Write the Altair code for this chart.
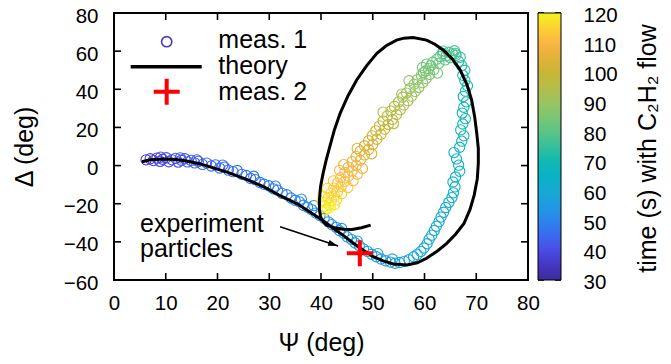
import altair as alt
import pandas as pd

FONT = "Liberation Sans"

# ---------------- data ----------------
# meas. 1, part 1: along the lower branch (time in s)
s1_psi = [6.2, 7.0, 7.6, 8.3, 8.9, 9.0, 9.4, 10.1, 10.6, 11.2, 11.9, 12.4, 12.8, 13.0, 13.7, 14.2, 14.9, 15.6, 16.0, 16.3,
          17.1, 17.9, 18.8, 19.6, 20.4, 21.0, 21.3, 22.1, 23.0, 23.8, 24.7, 25.6, 26.4, 27.0, 27.3, 28.2, 29.0, 29.9, 30.8, 31.2,
          31.6, 32.5, 33.4, 34.2, 35.0, 35.8, 36.2, 36.6, 37.4, 38.2, 38.6, 39.0, 39.8, 40.6, 41.4, 42.1, 42.9, 43.6, 44.0, 44.4,
          45.1, 45.9, 46.6, 47.0, 47.4, 48.2, 49.0, 49.8, 50.7, 51.0, 51.6, 52.5, 53.4, 53.8, 54.3, 55.2, 56.1]
s1_delta = [3.0, 3.6, 2.6, 3.9, 2.2, 4.4, 3.3, 4.1, 2.0, 3.0, 3.8, 1.8, 4.0, 2.8, 3.6, 1.9, 2.7, 1.4, 3.0, 2.2,
            0.6, 1.3, -0.2, 0.4, -1.3, 0.2, -0.8, -2.4, -3.2, -2.6, -4.6, -5.2, -6.8, -5.6, -7.4, -8.9, -9.8, -10.6, -12.2, -10.8,
            -12.9, -14.6, -15.3, -17.0, -18.2, -19.0, -17.6, -20.8, -21.9, -23.1, -21.0, -24.9, -26.2, -27.6, -29.5, -31.0, -32.4, -34.2, -33.0, -35.5,
            -37.4, -38.8, -40.6, -39.6, -42.0, -43.7, -45.0, -46.5, -47.8, -46.2, -49.0, -49.9, -50.6, -49.0, -51.2, -50.8, -50.2]
s1_time = [37.0, 37.5, 38.0, 38.4, 38.8, 39.0, 39.2, 39.6, 40.0, 40.4, 40.8, 41.1, 41.3, 41.5, 41.9, 42.2, 42.6, 43.0, 43.1, 43.3,
           43.7, 44.0, 44.4, 44.7, 45.0, 45.2, 45.3, 45.6, 45.9, 46.2, 46.5, 46.8, 47.1, 47.2, 47.4, 47.7, 48.0, 48.3, 48.6, 48.7,
           48.9, 49.2, 49.5, 49.8, 50.1, 50.4, 50.5, 50.7, 51.0, 51.3, 51.4, 51.6, 51.9, 52.2, 52.5, 52.8, 53.1, 53.4, 53.5, 53.7,
           54.0, 54.3, 54.6, 54.7, 54.9, 55.2, 55.5, 55.8, 56.1, 56.2, 56.4, 56.7, 57.0, 57.1, 57.3, 57.6, 57.9]

# meas. 1, part 2: right side going up
s2_psi = [57.0, 57.9, 58.6, 59.3, 59.9, 60.5, 60.9, 61.4, 61.9, 62.3, 62.8, 63.2, 63.7, 64.1, 64.7, 65.3, 65.6, 65.9,
          65.5, 66.0, 66.8, 66.6, 66.2, 65.7, 66.8, 67.2, 67.6, 67.0, 67.4, 67.9, 67.3, 67.6, 68.1, 67.5, 67.9, 68.3,
          67.8, 67.4, 67.8, 67.2, 66.6, 66.9, 66.1, 65.4, 64.7, 65.8, 64.2, 63.5]
s2_delta = [-49.4, -47.8, -46.6, -45.0, -43.2, -41.0, -38.6, -36.5, -34.0, -31.8, -29.4, -27.0, -24.5, -22.0, -19.3, -16.8, -14.3, -11.2,
            -8.6, -6.0, -3.0, 0.2, 3.5, 6.8, 9.6, 12.8, 15.6, 18.7, 21.8, 24.6, 27.5, 30.6, 33.4, 36.2, 39.0, 41.8,
            44.6, 47.3, 50.0, 52.4, 54.6, 56.8, 57.9, 58.6, 59.4, 60.2, 57.6, 58.8]
s2_time = [58.2, 58.5, 58.8, 59.1, 59.4, 59.7, 60.0, 60.3, 60.6, 60.9, 61.2, 61.5, 61.8, 62.1, 62.4, 62.8, 63.2, 63.6,
           64.0, 64.4, 64.8, 65.2, 65.6, 66.0, 66.4, 66.8, 67.2, 67.6, 68.0, 68.4, 68.8, 69.2, 69.6, 70.0, 70.4, 70.8,
           71.3, 71.8, 72.3, 72.8, 73.4, 74.0, 74.8, 75.6, 76.4, 77.2, 78.0, 78.8]

# meas. 1, part 3: top cluster and the diagonal back down
s3_psi = [66.0, 65.0, 63.0, 63.6, 62.4, 64.0, 62.8, 61.6, 61.2, 60.4, 60.8, 61.8, 62.5, 59.6, 60.2, 59.8, 61.0, 59.4,
          60.3, 58.6, 57.0, 59.6, 58.0, 58.9, 57.2, 58.2, 56.5, 55.6, 57.5, 55.8, 56.8, 55.0, 56.0, 54.2, 55.3, 52.0,
          53.5, 54.6, 52.8, 53.8, 52.0, 54.0, 53.0, 51.3, 52.3, 50.6, 51.6, 49.9, 50.8, 49.2, 50.0, 49.8, 48.4, 47.0,
          49.2, 47.6, 48.4, 46.8, 47.6, 48.0, 46.0, 46.8, 44.4, 45.3, 47.0, 46.0, 44.6, 43.6, 45.3, 46.2, 43.8, 44.6,
          42.4, 43.2, 45.2, 43.9, 42.5, 44.0, 43.2, 41.2, 41.9, 43.0, 42.6, 41.4, 40.4, 42.0, 42.6, 40.9, 41.6, 40.2,
          40.6, 41.2, 40.8, 41.8]
s3_delta = [58.8, 56.6, 57.2, 60.0, 55.8, 55.4, 53.6, 54.2, 52.4, 53.2, 50.8, 50.2, 48.5, 51.4, 49.6, 48.8, 47.8, 47.2,
            45.6, 45.0, 44.5, 43.4, 42.6, 41.0, 40.4, 38.8, 38.0, 37.5, 36.4, 35.8, 34.0, 33.4, 31.8, 31.0, 29.2, 28.0,
            28.6, 26.8, 26.0, 24.2, 23.4, 22.0, 21.6, 20.8, 19.0, 18.2, 16.4, 15.6, 13.8, 13.0, 11.0, 6.2, 10.4, 9.0,
            8.4, 7.6, 5.6, 4.8, 2.8, -1.5, 2.0, 0.0, 0.5, -0.8, -4.5, -2.8, -3.6, -2.5, -5.6, -8.0, -6.4, -8.4,
            -8.0, -9.2, -11.5, -11.0, -11.8, -14.8, -13.6, -12.0, -14.4, -18.0, -16.0, -16.8, -16.0, -18.4, -20.5, -19.2, -20.6, -19.0,
            -21.4, -22.4, -23.4, -21.8]
s3_time = [78.4, 79.0, 79.5, 80.0, 80.2, 80.8, 81.4, 82.0, 82.6, 83.2, 83.8, 84.0, 84.3, 84.4, 84.6, 85.0, 85.2, 85.8,
           86.4, 87.0, 87.5, 87.6, 88.2, 88.8, 89.4, 90.0, 90.6, 91.0, 91.2, 91.8, 92.4, 93.0, 93.6, 94.2, 94.8, 95.0,
           95.4, 96.0, 96.6, 97.2, 97.8, 98.0, 98.4, 99.0, 99.6, 100.2, 100.8, 101.4, 102.0, 102.6, 103.2, 103.5, 103.8, 104.0,
           104.4, 105.0, 105.6, 106.2, 106.8, 107.0, 107.4, 108.0, 108.5, 108.6, 109.0, 109.2, 109.8, 110.0, 110.4, 110.5, 111.0, 111.6,
           111.8, 112.2, 112.5, 112.8, 113.4, 113.8, 114.0, 114.2, 114.6, 115.0, 115.2, 115.8, 116.0, 116.4, 116.8, 117.0, 117.6, 118.0,
           118.2, 118.8, 119.4, 120.0]

# theory curve (in drawing order)
th_psi = [5.4, 7.0, 9.5, 12.0, 14.0, 16.5, 19.2, 22.0, 25.6, 29.0, 32.1, 35.5, 38.5, 40.5, 42.4, 44.3, 46.2, 48.2, 50.1,
          52.0, 54.0, 56.6, 58.6, 60.4, 62.5, 64.3, 66.0, 67.6, 68.8, 69.6, 70.2, 70.4, 70.4, 70.1, 69.7, 69.1, 68.2,
          66.9, 65.4, 63.6, 62.0, 60.4, 57.8, 56.0, 54.6, 52.6, 50.8, 48.8, 46.9, 45.2, 43.7, 42.6, 41.7, 41.0, 40.4,
          39.9, 39.7, 39.7, 39.9, 40.4, 41.1, 42.6, 44.3, 46.0, 47.8, 49.6]
th_delta = [2.0, 3.0, 3.4, 3.2, 2.4, 1.0, -1.2, -3.6, -7.2, -11.2, -15.8, -20.2, -25.5, -29.0, -33.0, -36.6, -40.6, -44.4, -47.8,
            -50.0, -51.6, -52.1, -51.0, -48.6, -44.8, -40.8, -36.0, -30.5, -23.0, -15.5, -7.0, 1.2, 9.0, 16.9, 25.5, 34.4, 42.5,
            50.1, 55.8, 60.6, 63.6, 65.8, 67.1, 66.8, 65.8, 62.8, 58.9, 52.3, 44.9, 36.5, 27.4, 18.8, 9.9, 2.8, -4.1,
            -11.2, -18.1, -23.0, -26.8, -29.4, -31.2, -32.6, -33.4, -33.5, -32.6, -31.2]

# meas. 2
m2_psi = [47.5]
m2_delta = [-46.0]

# annotation arrow (tail -> head)
arrow_psi = [32.1, 43.3]
arrow_delta = [-32.1, -42.2]

x_ticks = [0, 10, 20, 30, 40, 50, 60, 70, 80]
y_ticks = [-60, -40, -20, 0, 20, 40, 60, 80]
cb_ticks = [30, 40, 50, 60, 70, 80, 90, 100, 110, 120]

legend_labels = ["meas. 1", "theory", "meas. 2"]
annot_lines = ["experiment", "particles"]
cb_title = "time (s) with C\u2082H\u2082 flow"

# parula-like palette
cb_stops = [30, 35, 40, 45, 50, 55, 60, 65, 70, 75, 80, 85, 90, 95, 100, 105, 110, 115, 120]
cb_colors = ["#3a2c98", "#4436c2", "#4a4ce4", "#3b69ef", "#2b85ee", "#1f9ae2", "#17a9d2", "#08b2c6",
             "#10b9b2", "#36bf9a", "#5dc486", "#7cc674", "#9ac460", "#b5bd48", "#c9b535", "#e2b23a",
             "#fbb641", "#fdd232", "#f5f41a"]

# ---------------- chart ----------------
W, H = 414, 267
TICK_FS = 20.5
TEXT_FS = 25

meas = pd.DataFrame({
    "psi": s1_psi + s2_psi + s3_psi,
    "delta": s1_delta + s2_delta + s3_delta,
    "t": s1_time + s2_time + s3_time,
})
theory = pd.DataFrame({"psi": th_psi, "delta": th_delta, "idx": list(range(len(th_psi)))})
meas2 = pd.DataFrame({"psi": m2_psi, "delta": m2_delta})
arrow = pd.DataFrame({"psi": arrow_psi, "delta": arrow_delta, "idx": [0, 1]})
arrow_head = arrow.iloc[[1]]

xs = alt.Scale(domain=[0, 80], nice=False, zero=False)
ys = alt.Scale(domain=[-60, 80], nice=False, zero=False)
cbs = alt.Scale(domain=[30, 120], nice=False, zero=False)

x_axis = alt.Axis(values=x_ticks, tickCount=20, tickSize=0, domain=False, grid=False, labelOverlap=False,
                  labelFont=FONT, labelFontSize=TICK_FS, labelColor="black", labelPadding=13, labelFlush=False,
                  title="\u03a8 (deg)", titleFont=FONT, titleFontSize=TEXT_FS, titleFontWeight="normal",
                  titleColor="black", titleY=70, titleBaseline="alphabetic")
y_axis = alt.Axis(values=y_ticks, tickCount=20, tickSize=0, domain=False, grid=False, labelOverlap=False,
                  labelFont=FONT, labelFontSize=TICK_FS, labelColor="black", labelPadding=16, labelOffset=3,
                  title="\u0394 (deg)", titleFont=FONT, titleFontSize=TEXT_FS, titleFontWeight="normal",
                  titleColor="black", titleX=-82, titleY=133.5, titleAngle=270, titleBaseline="alphabetic")
cb_axis = alt.Axis(orient="right", offset=33, values=cb_ticks, tickCount=20, tickSize=0, domain=False, grid=False,
                   labelOverlap=False, labelFont=FONT, labelFontSize=TICK_FS, labelColor="black",
                   labelPadding=22, labelFlush=False, labelOffset=2.5,
                   title=cb_title, titleFont=FONT, titleFontSize=TEXT_FS, titleFontWeight="normal",
                   titleColor="black", titleAngle=270, titleBaseline="alphabetic", titleX=94, titleY=135)

X = alt.X("psi:Q", scale=xs, axis=x_axis)
Y = alt.Y("delta:Q", scale=ys, axis=y_axis)

color_scale = alt.Scale(domain=cb_stops, range=cb_colors, interpolate="rgb")

points = alt.Chart(meas).mark_point(shape="circle", filled=False, size=105, strokeWidth=1.1, opacity=1).encode(
    x=X, y=Y,
    stroke=alt.Stroke("t:Q", scale=color_scale,
                      legend=alt.Legend(orient="none", legendX=424, legendY=0, direction="vertical",
                                        gradientLength=H, gradientThickness=23, values=cb_ticks,
                                        labelExpr="''", labelFontSize=1,
                                        gradientStrokeColor="black", gradientStrokeWidth=1, title=None)),
)

theory_line = alt.Chart(theory).mark_line(color="black", strokeWidth=3).encode(
    x=alt.X("psi:Q", scale=xs), y=alt.Y("delta:Q", scale=ys), order="idx:Q")

PLUS = "M-1,0L1,0M0,-1L0,1"
ARROW = "M0,0L-2,-0.6L-2,0.6Z"

m2 = alt.Chart(meas2).mark_point(shape=PLUS, size=676, strokeWidth=4, color="#ff0000", filled=False, opacity=1).encode(
    x=alt.X("psi:Q", scale=xs), y=alt.Y("delta:Q", scale=ys))

arrow_line = alt.Chart(arrow).mark_line(color="black", strokeWidth=1.6).encode(
    x=alt.X("psi:Q", scale=xs), y=alt.Y("delta:Q", scale=ys), order="idx:Q")
arrow_tip = alt.Chart(arrow_head).mark_point(shape=ARROW, size=100, angle=18, filled=True, color="black", opacity=1).encode(
    x=alt.X("psi:Q", scale=xs), y=alt.Y("delta:Q", scale=ys))

# inward ticks on all four sides of the frame
xt = pd.DataFrame({"v": x_ticks})
yt = pd.DataFrame({"v": y_ticks})
tick_style = dict(color="black", strokeWidth=1.6)
tb = alt.Chart(xt).mark_rule(**tick_style).encode(x=alt.X("v:Q", scale=xs), y=alt.value(H), y2=alt.value(H - 7))
tt = alt.Chart(xt).mark_rule(**tick_style).encode(x=alt.X("v:Q", scale=xs), y=alt.value(0), y2=alt.value(7))
tl = alt.Chart(yt).mark_rule(**tick_style).encode(y=alt.Y("v:Q", scale=ys), x=alt.value(0), x2=alt.value(7))
tr = alt.Chart(yt).mark_rule(**tick_style).encode(y=alt.Y("v:Q", scale=ys), x=alt.value(W), x2=alt.value(W - 7))

# key
key_df = pd.DataFrame({"label": legend_labels})
key_circle = alt.Chart(key_df.iloc[[0]]).mark_point(shape="circle", filled=False, size=105, strokeWidth=1.6,
                                                    color="#4a3cc0", opacity=1).encode(
    x=alt.value(52.7), y=alt.value(28.7))
key_line = alt.Chart(key_df.iloc[[1]]).mark_rule(color="black", strokeWidth=3.5).encode(
    x=alt.value(16.7), x2=alt.value(87.7), y=alt.value(53.7))
key_plus = alt.Chart(key_df.iloc[[2]]).mark_point(shape=PLUS, size=676, strokeWidth=4, color="#ff0000",
                                                  filled=False, opacity=1).encode(
    x=alt.value(52.7), y=alt.value(78.7))
text_style = dict(align="left", baseline="alphabetic", font=FONT, fontSize=TEXT_FS, color="black")
key_t = [alt.Chart(key_df.iloc[[i]]).mark_text(**text_style).encode(
    x=alt.value(104.3), y=alt.value(yy), text="label:N") for i, yy in enumerate([35.3, 61.0, 87.3])]

ann_df = pd.DataFrame({"label": annot_lines})
ann_t = [alt.Chart(ann_df.iloc[[i]]).mark_text(**text_style).encode(
    x=alt.value(26), y=alt.value(yy), text="label:N") for i, yy in enumerate([218.7, 243.7])]

main = alt.layer(
    points, theory_line, arrow_line, arrow_tip, m2, tb, tt, tl, tr,
    key_circle, key_line, key_plus, *key_t, *ann_t
)

# colour-bar ticks and labels on their own (time) scale
cbt = pd.DataFrame({"v": cb_ticks})
cb_left = alt.Chart(cbt).mark_rule(**tick_style).encode(
    y=alt.Y("v:Q", scale=cbs, axis=cb_axis), x=alt.value(424), x2=alt.value(430))
cb_right = alt.Chart(cbt).mark_rule(**tick_style).encode(
    y=alt.Y("v:Q", scale=cbs), x=alt.value(447), x2=alt.value(441))
cb_layer = alt.layer(cb_left, cb_right)

chart = alt.layer(main, cb_layer).resolve_scale(y="independent").properties(
    width=W, height=H,
    autosize=alt.AutoSizeParams(type="none"),
    padding={"left": 106, "top": 5, "right": 135, "bottom": 76},
    background="white",
).configure_view(stroke="black", strokeWidth=2)

chart.save("out.html", embed_options={"renderer": "svg", "actions": False})
